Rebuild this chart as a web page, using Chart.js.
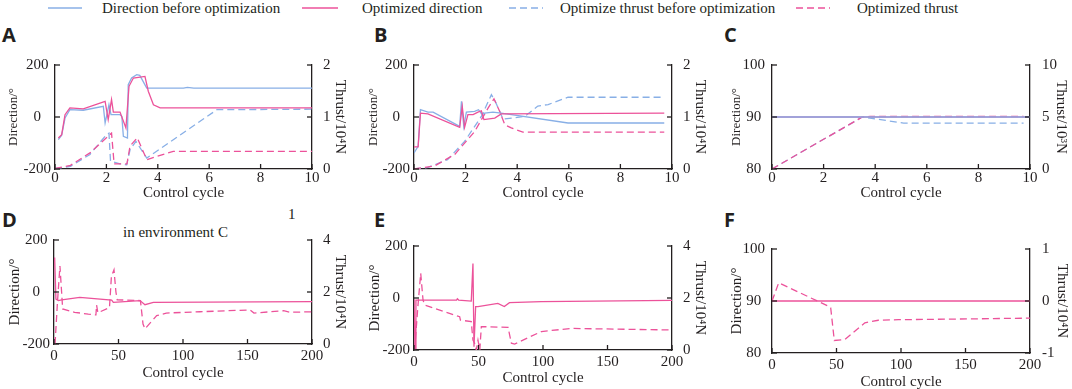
<!DOCTYPE html>
<html>
<head>
<meta charset="utf-8">
<script src="https://cdn.jsdelivr.net/npm/chart.js@4.4.0/dist/chart.umd.min.js"></script>
<style>
  body { margin: 0; background: #fff; }
  #fig { position: relative; width: 1072px; height: 389px; overflow: hidden;
         font-family: "Liberation Serif", serif; color: #231f20; }
  #fig canvas { position: absolute; }
  .lab { position: absolute; font: bold 20px "Open Sans", sans-serif; line-height: 20px; }
  .txt { position: absolute; font-size: 15px; line-height: 15px; white-space: nowrap; }
  .sw { position: absolute; top: 2px; }
</style>
</head>
<body>
<div id="fig">
  <svg class="sw" style="left:48px" width="36" height="12"><line x1="0" y1="6" x2="34" y2="6" stroke="#88afe6" stroke-width="1.4"/></svg>
  <div class="txt" style="left:102px;top:1px">Direction before optimization</div>
  <svg class="sw" style="left:302px" width="36" height="12"><line x1="0" y1="6" x2="36" y2="6" stroke="#ec529a" stroke-width="1.4"/></svg>
  <div class="txt" style="left:362px;top:1px">Optimized direction</div>
  <svg class="sw" style="left:509px" width="36" height="12"><line x1="0" y1="6" x2="34" y2="6" stroke="#88afe6" stroke-width="1.4" stroke-dasharray="7 4"/></svg>
  <div class="txt" style="left:560px;top:1px">Optimize thrust before optimization</div>
  <svg class="sw" style="left:796px" width="36" height="12"><line x1="0" y1="6" x2="34" y2="6" stroke="#ec529a" stroke-width="1.4" stroke-dasharray="7 4"/></svg>
  <div class="txt" style="left:857px;top:1px">Optimized thrust</div>

  <div class="lab" style="left:2px;top:25px">A</div>
  <div class="lab" style="left:374px;top:25px">B</div>
  <div class="lab" style="left:724px;top:25px">C</div>
  <div class="lab" style="left:2px;top:210px">D</div>
  <div class="lab" style="left:374px;top:210px">E</div>
  <div class="lab" style="left:724px;top:210px">F</div>

  <div class="txt" style="left:123px;top:225px">in environment C</div>
  <div class="txt" style="left:288px;top:207px">1</div>
</div>
<script>
const BLUE = "#88afe6";
const PINK = "#ec529a";
const INK = "#231f20";
const SERIF = "Liberation Serif, serif";

// tick values
const ticksX10 = [0, 2, 4, 6, 8, 10];
const ticksX200 = [0, 50, 100, 150, 200];
const ticksDir200 = [-200, 0, 200];
const ticksDir90 = [80, 90, 100];
const ticksThr2 = [0, 1, 2];
const ticksThr4 = [0, 2, 4];
const ticksThr10 = [0, 5, 10];
const ticksThrF = [-1, 0, 1];

// A: [control cycle, value]
const aDirBefore = [[0.13,-87],[0.26,-70],[0.39,-4],[0.58,28],[1.1,26],[1.88,41],[1.95,-23],[2.1,47],[2.18,9],[2.53,9],[2.6,3],[2.66,-74],[2.82,-81],[2.85,124],[2.98,150],[3.18,163],[3.3,160],[3.57,111],[5.0,111],[5.15,114],[5.4,111],[10,111]];
const aDirOpt = [[0.13,-81],[0.26,-68],[0.39,9],[0.58,35],[1.1,31],[1.95,60],[2.07,-10],[2.2,67],[2.27,19],[2.53,19],[2.76,-42],[2.88,118],[3.05,150],[3.5,156],[3.63,99],[3.83,47],[4.09,35],[10,35]];
const aThrBefore = [[0,0.01],[0.6,0.05],[1.36,0.28],[2.0,0.66],[2.1,0.69],[2.16,0.15],[2.53,0.1],[2.79,0.08],[2.92,0.37],[3.15,0.53],[3.57,0.21],[6.3,1.14],[10,1.15]];
const aThrOpt = [[0,0.01],[0.6,0.07],[1.36,0.31],[2.2,0.69],[2.3,0.1],[2.8,0.1],[2.92,0.44],[3.2,0.6],[3.57,0.18],[4.6,0.34],[10,0.34]];

// B
const bDirBefore = [[0,-138],[0.16,-113],[0.25,28],[0.54,19],[0.74,19],[1.77,-36],[1.84,60],[1.93,-36],[2.03,19],[2.35,22],[2.5,28],[2.64,9],[2.74,15],[3.06,19],[3.38,15],[5.97,-23],[9.7,-23]];
const bDirOpt = [[0,-115],[0.16,-115],[0.25,15],[0.54,12],[1.77,-40],[1.87,41],[1.96,-40],[2.09,9],[2.29,9],[2.48,19],[2.61,24],[2.71,-10],[3.13,-4],[3.38,12],[9.7,15]];
const bThrBefore = [[0,0],[0.54,0.03],[1.3,0.18],[1.96,0.53],[2.61,1.01],[3.0,1.43],[3.15,1.3],[3.45,0.96],[4.29,1.01],[4.8,1.21],[5.2,1.24],[5.97,1.38],[9.7,1.38]];
const bThrOpt = [[0,0],[0.8,0.06],[1.58,0.28],[2.35,0.72],[2.87,1.17],[3.1,1.35],[3.32,1.11],[3.52,0.85],[3.77,0.79],[4.22,0.71],[9.7,0.71]];

// C
const cDirBefore = [[0,90],[10,90]];
const cDirOpt = [[0,90],[10,90]];
const cThrBefore = [[0,0],[3.5,5],[5.1,4.42],[9.75,4.42]];
const cThrOpt = [[0,0],[3.5,5],[3.8,5.05],[9.75,5.05]];

// D
const dDirOpt = [[0.5,133],[1.5,-27],[3.4,-33],[6,-30],[20,-21],[44.7,-31],[46,-40],[66.7,-33],[70.5,-49],[77,-40],[200,-37]];
const dThrOpt = [[0.8,0],[2.6,1.54],[4.6,3.0],[6,1.92],[6.7,1.35],[16,1.22],[26.6,1.15],[32.5,1.12],[33,1.5],[34,1.2],[43,1.4],[44.5,2.6],[46.5,2.85],[48,2.0],[49,1.7],[67,1.67],[69,0.77],[70.5,0.58],[79.6,1.09],[87,1.19],[113,1.24],[152,1.31],[155,1.19],[178,1.28],[183,1.22],[200,1.24]];

// E
const eDirOpt = [[0,-5],[0.8,-195],[1.5,-8],[33,-8],[33.6,-3],[34.6,-8],[44.4,-12],[45.7,133],[46.5,-187],[47.8,-33],[49.6,-33],[65,-21],[70,-33],[74,-18],[98.7,-14],[200,-9]];
const eThrOpt = [[0.5,0],[3,1.67],[5.2,2.95],[7,1.92],[8.3,1.73],[35.4,1.28],[36,1.15],[44.4,1.09],[45.7,0.38],[47,0.26],[48.3,0],[49.6,0.38],[51,0],[52.2,0.9],[72.9,0.87],[75.5,0.26],[78,0.23],[98.7,0.71],[122,0.83],[200,0.77]];

// F
const fDirOpt = [[0,90],[200,90]];
const fThrOpt = [[0,0],[5.2,0.35],[43.7,-0.1],[45.5,-0.13],[48.3,-0.76],[56.6,-0.74],[72,-0.42],[82.4,-0.37],[98,-0.36],[200,-0.33]];

const top4 = (dirB, dirO, thrB, thrO, blueOnTop) => [
  { data: dirO, color: PINK, order: blueOnTop ? 1 : 0 },
  { data: dirB, color: BLUE, order: blueOnTop ? 0 : 1 },
  { data: thrO, color: PINK, dash: true, thr: true, order: 2 },
  { data: thrB, color: BLUE, dash: true, thr: true, order: 3 }
];

const panels = [
  { box: [0, 20, 360, 190], plot: [55, 312, 65, 169], lt: 14, rt: 340, xt: 193, ls: 13, rs: 15, xPad: 0, lPad: 4, rPad: 11,
    x: ticksX10, y: ticksDir200, y1: ticksThr2, y1Title: "Thrust/10⁴N",
    series: top4(aDirBefore, aDirOpt, aThrBefore, aThrOpt, false) },
  { box: [360, 20, 360, 190], plot: [414, 672, 65, 169], lt: 374, rt: 700, xt: 193, ls: 13, rs: 15, xPad: 0, lPad: 4, rPad: 11,
    x: ticksX10, y: ticksDir200, y1: ticksThr2, y1Title: "Thrust/10⁴N",
    series: top4(bDirBefore, bDirOpt, bThrBefore, bThrOpt, false) },
  { box: [720, 20, 352, 190], plot: [772, 1030, 65, 169], lt: 737, rt: 1061, xt: 193, ls: 13, rs: 15, xPad: 0, lPad: 7, rPad: 12,
    x: ticksX10, y: ticksDir90, y1: ticksThr10, y1Title: "Thrust/10³N",
    series: top4(cDirBefore, cDirOpt, cThrBefore, cThrOpt, true) },
  { box: [0, 200, 360, 200], plot: [54, 312, 240, 344], lt: 15, rt: 340, xt: 373, ls: 15, rs: 15, xPad: 3, lPad: 4, rPad: 11,
    x: ticksX200, y: ticksDir200, y1: ticksThr4, y1Title: "Thrust/10⁴N",
    series: [{ data: dDirOpt, color: PINK, order: 0 }, { data: dThrOpt, color: PINK, dash: true, thr: true, order: 1 }] },
  { box: [360, 200, 360, 200], plot: [414, 672, 246, 350], lt: 375, rt: 700, xt: 378, ls: 15, rs: 15, xPad: 3, lPad: 4, rPad: 11,
    x: ticksX200, y: ticksDir200, y1: ticksThr4, y1Title: "Thrust/10⁴N",
    series: [{ data: eDirOpt, color: PINK, order: 0 }, { data: eThrOpt, color: PINK, dash: true, thr: true, order: 1 }] },
  { box: [720, 200, 352, 200], plot: [772, 1030, 249, 353], lt: 737, rt: 1062, xt: 382, ls: 15, rs: 15, xPad: 3, lPad: 7, rPad: 12,
    x: ticksX200, y: ticksDir90, y1: ticksThrF, y1Title: "Thrust/10⁴N",
    series: [{ data: fDirOpt, color: PINK, order: 0 }, { data: fThrOpt, color: PINK, dash: true, thr: true, order: 1 }] }
];

// short tick marks pointing into the plot
const inTicks = {
  id: "inTicks",
  afterDraw(chart) {
    const { ctx, chartArea: a } = chart;
    ctx.save();
    ctx.strokeStyle = INK;
    ctx.lineWidth = 1.3;
    for (const s of Object.values(chart.scales)) {
      for (const t of s.ticks) {
        const p = s.getPixelForValue(t.value);
        ctx.beginPath();
        if (s.axis === "x") { ctx.moveTo(p, a.bottom); ctx.lineTo(p, a.bottom - 5); }
        else if (s.position === "left") { ctx.moveTo(a.left, p); ctx.lineTo(a.left + 5, p); }
        else { ctx.moveTo(a.right, p); ctx.lineTo(a.right - 5, p); }
        ctx.stroke();
      }
    }
    ctx.restore();
  }
};

const fig = document.getElementById("fig");

function axisBase(ticks, size) {
  return {
    type: "linear",
    min: ticks[0],
    max: ticks[ticks.length - 1],
    afterBuildTicks: (s) => { s.ticks = ticks.map((v) => ({ value: v })); },
    grid: { display: false, drawTicks: false },
    border: { display: true, color: INK, width: 1.3 },
    ticks: { color: INK, font: { family: SERIF, size: 15, weight: "normal" }, maxRotation: 0, autoSkip: false },
    title: { display: true, color: INK, font: { family: SERIF, size: size, weight: "normal" } }
  };
}

function drawAll() {
  panels.forEach((p) => {
    const [cl, ct, cw, ch] = p.box;
    const [pl, pr, pt, pb] = p.plot;
    const cv = document.createElement("canvas");
    cv.width = cw;
    cv.height = ch;
    cv.style.left = cl + "px";
    cv.style.top = ct + "px";
    fig.appendChild(cv);

    const x = axisBase(p.x, 15);
    x.afterFit = (s) => { s.height = ct + ch - pb; };
    x.ticks.padding = p.xPad;
    x.title.text = "Control cycle";
    x.title.padding = { top: 0, bottom: ct + ch - p.xt - 15 * 1.2 / 2 };

    const y = axisBase(p.y, p.ls);
    y.position = "left";
    y.afterFit = (s) => { s.width = pl - cl; };
    y.ticks.padding = p.lPad;
    y.ticks.crossAlign = "center";
    y.title.text = "Direction/°";
    y.title.padding = { top: p.lt - cl - p.ls * 1.2 / 2, bottom: 0 };

    const y1 = axisBase(p.y1, p.rs);
    y1.position = "right";
    y1.afterFit = (s) => { s.width = cl + cw - pr; };
    y1.ticks.padding = p.rPad;
    y1.title.text = p.y1Title;
    y1.title.padding = { top: cl + cw - p.rt - p.rs * 1.2 / 2, bottom: 0 };

    new Chart(cv, {
      type: "line",
      data: {
        datasets: p.series.map((s) => ({
          data: s.data.map(([vx, vy]) => ({ x: vx, y: vy })),
          borderColor: s.color,
          borderWidth: 1.3,
          borderDash: s.dash ? [7, 4] : [],
          pointRadius: 0,
          tension: 0,
          fill: false,
          yAxisID: s.thr ? "y1" : "y",
          order: s.order
        }))
      },
      options: {
        responsive: false,
        animation: false,
        devicePixelRatio: 1,
        layout: { padding: { top: pt - ct, left: 0, right: 0, bottom: 0 } },
        plugins: { legend: { display: false }, tooltip: { enabled: false } },
        scales: { x, y, y1 }
      },
      plugins: [inTicks]
    });
  });
}

document.fonts.load("15px 'Liberation Serif'").then(drawAll, drawAll);
</script>
</body>
</html>
